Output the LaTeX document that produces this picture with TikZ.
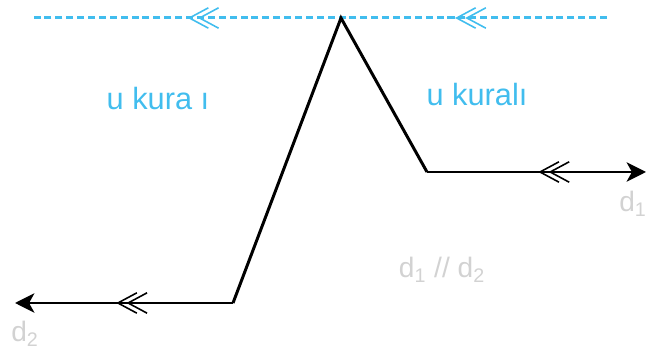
\documentclass[tikz,border=0pt]{standalone}
\usepackage{fontspec}
\setmainfont{Liberation Sans}
\usetikzlibrary{arrows.meta, decorations.markings}
\definecolor{mSky}{HTML}{41BDEE}
\definecolor{mFog}{HTML}{D2D2D2}
\definecolor{mInk}{HTML}{000000}

\begin{document}
\begin{tikzpicture}[x=0.02cm, y=-0.02cm, >={Stealth[length=11pt, width=11pt, inset=3pt]},
  chev/.style={postaction={decorate, decoration={markings, mark=at position #1 with {
      \draw[solid, -, line width=0.9pt] (-10.8pt,5.8pt) -- (0,0) -- (-10.8pt,-5.8pt)
        (-16.6pt,5.8pt) -- (-5.8pt,0) -- (-16.6pt,-5.8pt);}}}},
  chevback/.style={postaction={decorate, decoration={markings, mark=at position #1 with {
      \draw[solid, -, line width=0.9pt] (10.8pt,5.8pt) -- (0,0) -- (10.8pt,-5.8pt)
        (16.6pt,5.8pt) -- (5.8pt,0) -- (16.6pt,-5.8pt);}}}},
  sky/.style={mSky, line width=1.7pt, dash pattern=on 4pt off 2.2pt},
  ink/.style={mInk, line width=1.7pt},
  word/.style={text=mSky, font=\fontsize{17.5}{20}\selectfont, anchor=base, inner sep=0pt},
  tag/.style={text=mFog, font=\fontsize{16}{19}\selectfont, anchor=base, inner sep=0pt}]
  \useasboundingbox (0,0) rectangle (659,350);
  % points of the broken line
  \coordinate (skyR) at (607,18);
  \coordinate (skyL) at (31,18);
  \coordinate (endL) at (15,303);
  \coordinate (bendL) at (233,303);
  \coordinate (peak) at (341,18);
  \coordinate (bendR) at (427,172);
  \coordinate (endR) at (646,172);
  % dashed parallel through the peak
  \draw[sky, chev=0.261, chev=0.725] (skyR) -- (skyL);
  % d1 and d2 with the broken line between them
  \draw[ink, line join=miter] (bendL) -- (peak) -- (bendR);
  \draw[ink, ->, chev=0.528] (bendL) -- (endL);
  \draw[ink, ->, chevback=0.516] (bendR) -- (endR);
  % labels
  \node[word] (leftrule) at (158,110) {u kura ı};
  \node[word] (rightrule) at (477,106) {u kuralı};
  \node[tag] (dOne) at (633,212) {d\textsubscript{1}};
  \node[tag] (dTwo) at (25,342) {d\textsubscript{2}};
  \node[tag] (dPar) at (442,278) {d\textsubscript{1} // d\textsubscript{2}};
\end{tikzpicture}
\end{document}
